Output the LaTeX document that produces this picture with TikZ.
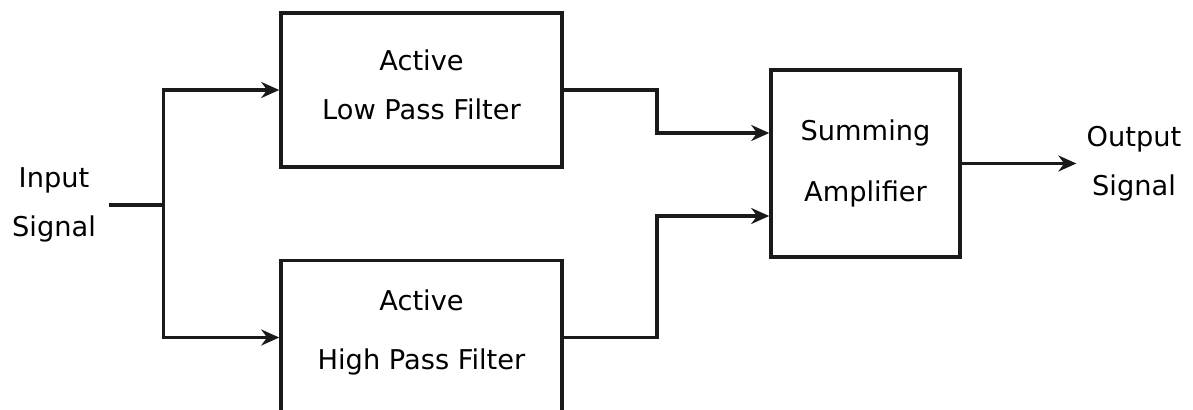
\documentclass[tikz,border=0pt]{standalone}
\usepackage{fontspec}
\setmainfont{DejaVu Sans}
\usepackage{tikz}
\usetikzlibrary{arrows.meta, positioning}
\definecolor{ink}{HTML}{1A1A1A}

\begin{document}
\begin{tikzpicture}[
      box/.style={draw=ink, line width=2pt, minimum width=5.62cm, minimum height=3.08cm,
                  align=center, font=\fontsize{15.5}{28}\selectfont},
      lbl/.style={align=center, inner sep=2.5mm, font=\fontsize{15.5}{28}\selectfont},
      arr/.style={-{Stealth[length=3.6mm, width=3.2mm]}, line width=2pt, ink}]
    \useasboundingbox (0,0) rectangle (23.86,-8.2);
    \node[box] (lpf) at (8.43,-1.8) {Active\\Low Pass Filter\\[-22pt]\mbox{}};
    \node[box, below=1.8cm of lpf] (hpf) {Active\\[6pt]High Pass Filter\\[-19pt]\mbox{}};
    \node[box, minimum width=3.78cm, minimum height=3.74cm] (sum) at (17.31,-3.27) {Summing\\[7pt]Amplifier};
    \node[lbl] (in) at (1.08,-4.1) {Input\\Signal};
    \node[lbl, inner sep=2mm] (out) at (22.68,-3.27) {Output\\Signal};
    % split the input into both filters
    \draw[line width=2pt, ink] (in.east) -- ++(1.1,0) coordinate (split);
    \draw[arr] (split) |- (lpf.west);
    \draw[arr] (split) |- (hpf.west);
    % filter outputs into the summing amplifier
    \draw[arr] (lpf.east) -- ++(1.86,0) |- ([yshift=6.1mm]sum.west);
    \draw[arr] (hpf.east) -- ++(1.86,0) |- ([yshift=-10.5mm]sum.west);
    \draw[arr] (sum.east) -- (out.west);
  \end{tikzpicture}
\end{document}
